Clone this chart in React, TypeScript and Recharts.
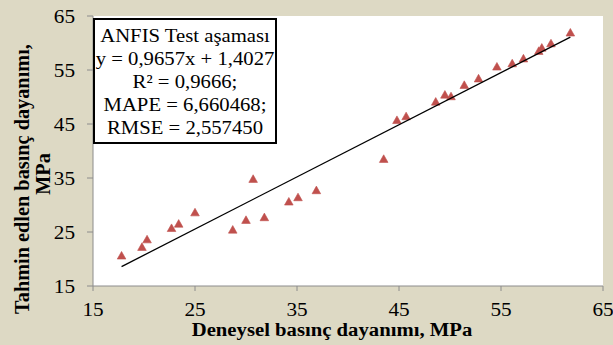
import React from 'react';
import { ScatterChart, Scatter, XAxis, YAxis, CartesianGrid, Label } from 'recharts';

const measured = [17.8, 19.8, 20.3, 22.7, 23.4, 25.0, 28.7, 30.0, 30.7, 31.8, 34.2, 35.1, 36.9, 43.5, 44.8, 45.7, 48.6, 49.5, 50.1, 51.4, 52.8, 54.6, 56.1, 57.2, 58.7, 59.0, 59.9, 61.8];
const predicted = [20.6, 22.2, 23.6, 25.7, 26.5, 28.6, 25.4, 27.2, 34.8, 27.7, 30.6, 31.4, 32.7, 38.5, 45.7, 46.4, 49.1, 50.4, 50.1, 52.2, 53.4, 55.6, 56.2, 57.1, 58.5, 59.1, 59.9, 61.9];
const ticks = [15, 25, 35, 45, 55, 65];
const slope = 0.9657;
const intercept = 1.4027;
const legendLines = ['ANFIS Test aşaması', 'y = 0,9657x + 1,4027', 'R² = 0,9666;', 'MAPE = 6,660468;', 'RMSE = 2,557450'];
const xTitle = 'Deneysel basınç dayanımı, MPa';
const yTitle1 = 'Tahmin edlen basınç dayanımı,';
const yTitle2 = 'MPa';

const points = measured.map((x, i) => ({ x, y: predicted[i] }));
const xMin = Math.min(...measured);
const xMax = Math.max(...measured);
const fitLine = [xMin, xMax].map((x) => ({ x, y: slope * x + intercept }));

const FONT = '"Liberation Serif", "Times New Roman", serif';
const BG = '#DDD9C4';
const SX = 1.09;

const Tri = (props: any) => {
  const { cx, cy } = props;
  if (cx == null || cy == null) return <g />;
  return (
    <polygon
      points={`${cx},${cy - 4.3} ${cx - 4.3},${cy + 3.3} ${cx + 4.3},${cy + 3.3}`}
      fill="#C0504D"
      stroke="#C0504D"
      strokeWidth={0.6}
    />
  );
};

const Nothing = () => <g />;

const XTick = (props: any) => {
  const { x, y, payload } = props;
  return (
    <text
      transform={`translate(${x},${y}) scale(${SX},1)`}
      textAnchor="middle"
      dy="0.71em"
      fontFamily={FONT}
      fontSize={19.5}
      fill="#000"
    >
      {payload.value}
    </text>
  );
};

const YTick = (props: any) => {
  const { x, y, payload } = props;
  return (
    <text
      transform={`translate(${x},${y}) scale(${SX},1)`}
      textAnchor="end"
      dy="0.355em"
      fontFamily={FONT}
      fontSize={19.5}
      fill="#000"
    >
      {payload.value}
    </text>
  );
};

export default function App() {
  return (
    <div style={{ position: 'absolute', left: 0, top: 0, width: 613, height: 345, background: BG }}>
      <ScatterChart width={613} height={345} margin={{ top: 16, right: 10, left: 0, bottom: 0 }}>
        <CartesianGrid fill="#ffffff" stroke="none" horizontal={false} vertical={false} />
        <XAxis
          type="number"
          dataKey="x"
          domain={[15, 65]}
          ticks={ticks}
          height={59}
          stroke="#8c8c8c"
          tickSize={5}
          tickMargin={11}
          tick={<XTick />}
          allowDataOverflow
        >
          <Label
            content={() => (
              <text
                transform={`translate(332,336) scale(${SX},1)`}
                textAnchor="middle"
                fontFamily={FONT}
                fontWeight="bold"
                fontSize={19}
                fill="#000"
              >
                {xTitle}
              </text>
            )}
          />
        </XAxis>
        <YAxis
          type="number"
          dataKey="y"
          domain={[15, 65]}
          ticks={ticks}
          width={93}
          stroke="#8c8c8c"
          tickSize={6}
          tickMargin={12}
          tick={<YTick />}
          allowDataOverflow
        />
        <Scatter data={points} shape={Tri} isAnimationActive={false} />
        <Scatter
          data={fitLine}
          line={{ stroke: '#000', strokeWidth: 1.3 }}
          shape={Nothing}
          isAnimationActive={false}
        />
        <text transform="translate(28.5,179) rotate(-90)" textAnchor="middle" fontFamily={FONT} fontWeight="bold" fontSize={20.3} fill="#000">
          {yTitle1}
        </text>
        <text transform="translate(49.5,174) rotate(-90)" textAnchor="middle" fontFamily={FONT} fontWeight="bold" fontSize={20.3} fill="#000">
          {yTitle2}
        </text>
      </ScatterChart>
      <div
        style={{
          position: 'absolute',
          left: 93,
          top: 18,
          width: 180,
          height: 118,
          border: '2px solid #000',
          background: '#fff',
          fontFamily: FONT,
          fontSize: 19,
          lineHeight: '23px',
          textAlign: 'center',
          color: '#000',
          paddingTop: 4,
          boxSizing: 'content-box',
        }}
      >
        {legendLines.map((l, i) => (
          <div key={i} style={{ transform: `scaleX(${SX})`, transformOrigin: 'center', whiteSpace: 'nowrap' }}>
            {l}
          </div>
        ))}
      </div>
    </div>
  );
}
